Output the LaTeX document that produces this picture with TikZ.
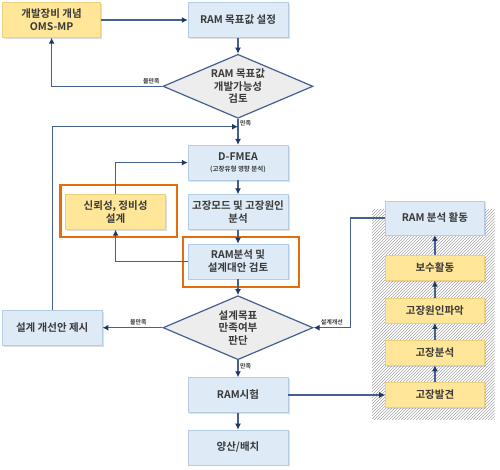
\documentclass[tikz,border=0pt]{standalone}
\usepackage{fontspec}
\setmainfont{Noto Sans CJK KR}
\newfontfamily\krbold{Noto Sans CJK KR Bold}
\usetikzlibrary{positioning, calc, shapes.geometric, arrows.meta, shadows, patterns, backgrounds, fit}
\definecolor{boxblue}{HTML}{DEEBF7}
\definecolor{boxblueline}{HTML}{B4CDE6}
\definecolor{boxyellow}{HTML}{FFE699}
\definecolor{boxyellowline}{HTML}{EDCF7E}
\definecolor{condgray}{HTML}{EDEDED}
\definecolor{flowline}{HTML}{44608F}
\definecolor{flowtip}{HTML}{1F3864}
\definecolor{frameorange}{HTML}{E46C0A}
\definecolor{txtgray}{HTML}{3A3A3A}
\tikzset{
  ram box/.style={draw=boxblueline, fill=boxblue, rectangle, minimum width=100pt, minimum height=35pt, align=center, inner sep=2pt,
    font=\krbold\fontsize{10.5}{13}\selectfont, text=txtgray,
    drop shadow={opacity=0.25, shadow xshift=1.5pt, shadow yshift=-1.5pt}},
  ram yel/.style={ram box, draw=boxyellowline, fill=boxyellow},
  ram act/.style={ram yel, minimum width=99pt, minimum height=25pt},
  ram cond/.style={draw=flowline, line width=1.2pt, fill=condgray, diamond, aspect=2.34, minimum width=150pt, minimum height=64pt, inner sep=0pt,
    align=center, font=\krbold\fontsize{10.5}{12.5}\selectfont, text=txtgray},
  flow/.style={flowline, line width=1.4pt, -{Latex[length=6pt, width=6pt, color=flowtip]}},
  orange frame/.style={draw=frameorange, line width=2.2pt, inner sep=0pt},
  lbl/.style={font=\krbold\fontsize{6}{7}\selectfont, text=txtgray, inner sep=1.5pt}
}

\begin{document}
\begin{tikzpicture}
\useasboundingbox (0pt,0pt) rectangle (500pt,-470pt);

% main column
\node[ram box] at (238pt,-20pt) (ramset) {RAM 목표값 설정};
\node[ram yel, minimum width=98pt, left=87pt of ramset] (oms) {개발장비 개념\\OMS-MP};
\node[ram cond, below=16pt of ramset] (d1) {RAM 목표값\\개발가능성\\검토};
\node[ram box, below=26pt of d1] (dfmea) {D-FMEA\\[-2pt]{\fontsize{6.5}{7}\selectfont (고장유형 영향 분석)}};
\node[ram box, below=14pt of dfmea] (mode) {고장모드 및 고장원인\\분석};
\node[ram box, below=14pt of mode] (ramana) {RAM분석 및\\설계대안 검토};
\node[ram yel, left=22pt of mode] (relia) {신뢰성, 정비성\\설계};
\node[ram cond, below=16pt of ramana] (d2) {설계목표\\만족여부\\판단};
\node[ram box, left=60pt of d2] (improve) {설계 개선안 제시};
\node[ram box, below=17pt of d2] (ramtest) {RAM시험};
\node[ram box, below=17pt of ramtest] (mass) {양산/배치};

% analysis activities
\node[ram act, right=97pt of ramtest] (detect) {고장발견};
\node[ram act, above=17pt of detect] (fanaly) {고장분석};
\node[ram act, above=17pt of fanaly] (cause) {고장원인파악};
\node[ram act, above=17pt of cause] (repair) {보수활동};
\node[ram box, minimum width=99pt, minimum height=34pt, above=20pt of repair] (ramact) {RAM 분석 활동};

\begin{scope}[on background layer]
\fill[pattern=north east lines, pattern color=gray!70]
  ($(ramact.north west)+(-13pt,-9pt)$) rectangle ($(detect.south east)+(10pt,-12pt)$);
\end{scope}

% highlight frames
\node[orange frame, fit={($(ramana.south west)+(-5pt,-8pt)$) ($(ramana.north east)+(11pt,7pt)$)}] (ramanaf) {};
\node[orange frame, fit={($(relia.south west)+(-5pt,-7pt)$) ($(relia.north east)+(11pt,9pt)$)}] (reliaf) {};

\coordinate (mj) at ($(d1.south)!0.3!(dfmea.north)$);

\draw[flow] (oms) -- (ramset);
\draw[flow] (ramset) -- (d1);
\draw[flow] (d1.west) -- (oms.south |- d1.west) node[lbl, pos=0.1, above] {불만족} -- (oms.south);
\draw[flow] (d1.south) -- (dfmea.north) node[lbl, pos=0.15, right] {만족};
\draw[flow] (improve.north) |- (mj);
\draw[flow] (dfmea) -- (mode);
\draw[flow] (mode) -- (ramana);
\draw[flow] (ramana.west) -| (relia.south);
\draw[flow] (relia.north) |- (dfmea.west);
\draw[flow] (ramana) -- (d2);
\draw[flow] (d2.west) -- (improve.east) node[lbl, pos=0.4, above] {불만족};
\draw[flow] (d2.south) -- (ramtest.north) node[lbl, pos=0.35, right] {만족};
\draw[flow] (ramtest) -- (mass);
\draw[flow] (ramtest) -- (detect);
\draw[flow] (detect) -- (fanaly);
\draw[flow] (fanaly) -- (cause);
\draw[flow] (cause) -- (repair);
\draw[flow] (repair) -- (ramact);
\draw[flow] (ramact.west) -- ($(ramact.west)+(-35pt,0pt)$) |- (d2.east) node[lbl, pos=0.75, above] {설계개선};

\end{tikzpicture}
\end{document}
